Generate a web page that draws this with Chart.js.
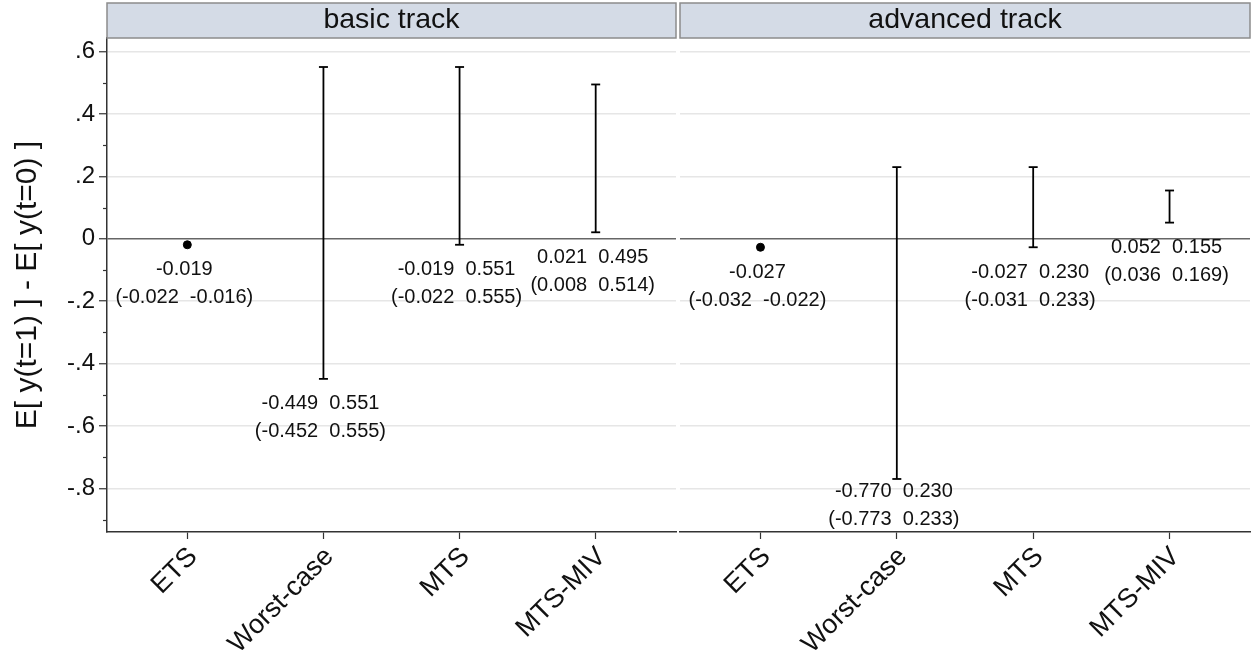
<!DOCTYPE html>
<html lang="en">
<head>
<meta charset="utf-8">
<script src="https://cdn.jsdelivr.net/npm/chart.js@4.4.0/dist/chart.umd.min.js"></script>
<title>bounds by track</title>
<style>
  body { margin:0; background:#fff; }
  #wrap { position:relative; width:1252px; height:662px; }
  canvas { position:absolute; top:0; }
</style>
</head>
<body>
<div id="wrap">
  <canvas id="basic" width="678" height="662" style="left:0"></canvas>
  <canvas id="advanced" width="574" height="662" style="left:678px"></canvas>
</div>
<script>
// data
var categories = ['ETS', 'Worst-case', 'MTS', 'MTS-MIV'];
var panels = ['basic track', 'advanced track'];

var basicLower  = [-0.019, -0.449, -0.019, 0.021];
var basicUpper  = [-0.019,  0.551,  0.551, 0.495];
var basicCiLow  = [-0.022, -0.452, -0.022, 0.008];
var basicCiHigh = [-0.016,  0.555,  0.555, 0.514];

var advLower  = [-0.027, -0.770, -0.027, 0.052];
var advUpper  = [-0.027,  0.230,  0.230, 0.155];
var advCiLow  = [-0.032, -0.773, -0.031, 0.036];
var advCiHigh = [-0.022,  0.233,  0.233, 0.169];

var yTicks = [-0.9, -0.8, -0.7, -0.6, -0.5, -0.4, -0.3, -0.2, -0.1, 0, 0.1, 0.2, 0.3, 0.4, 0.5, 0.6];
var yTitle = 'E[ y(t=1) ] - E[ y(t=0) ]';

var FONT = "'Liberation Sans', Arial, Helvetica, sans-serif";

function isMajor(v) { return Math.round(v * 10) % 2 === 0; }
function fmtTick(v) {
  var k = Math.round(v * 10);
  if (k === 0) return '0';
  return (k / 10).toString().replace('0.', '.');
}
function fmt(v) { return v.toFixed(3); }

// strip header above each panel
var stripPlugin = {
  id: 'strip',
  afterDraw: function(chart) {
    var ctx = chart.ctx, a = chart.chartArea;
    ctx.save();
    ctx.fillStyle = '#d4dbe6';
    ctx.fillRect(a.left, 3, a.right - a.left, 35);
    ctx.strokeStyle = '#8c8c8c';
    ctx.lineWidth = 1.5;
    ctx.strokeRect(a.left, 3, a.right - a.left, 35);
    ctx.fillStyle = '#111';
    ctx.font = '28.5px ' + FONT;
    ctx.textAlign = 'center';
    ctx.textBaseline = 'alphabetic';
    ctx.fillText(chart.options.plugins.strip.text, (a.left + a.right) / 2, 28);
    ctx.restore();
  }
};

// value labels under each bound + minor ticks
var labelPlugin = {
  id: 'boundLabels',
  afterDatasetsDraw: function(chart) {
    var o = chart.options.plugins.boundLabels;
    var ctx = chart.ctx, xs = chart.scales.x, ys = chart.scales.y;
    ctx.save();
    ctx.fillStyle = '#111';
    ctx.font = '20px ' + FONT;
    ctx.textAlign = 'center';
    ctx.textBaseline = 'middle';
    for (var i = 0; i < categories.length; i++) {
      var x = xs.getPixelForValue(i + 1) - 3;
      var y = ys.getPixelForValue(o.lower[i]);
      var l1 = o.lower[i] === o.upper[i] ? fmt(o.lower[i]) : fmt(o.lower[i]) + '  ' + fmt(o.upper[i]);
      var l2 = '(' + fmt(o.ciLow[i]) + '  ' + fmt(o.ciHigh[i]) + ')';
      // keep the label block inside the plot region
      var y2 = Math.min(y + 53, chart.chartArea.bottom - 13);
      ctx.fillText(l1, x, y2 - 28);
      ctx.fillText(l2, x, y2);
    }
    if (o.minorTicks) {
      ctx.strokeStyle = '#333';
      ctx.lineWidth = 1.2;
      yTicks.forEach(function(v) {
        if (isMajor(v)) return;
        var py = Math.round(ys.getPixelForValue(v)) + 0.5;
        ctx.beginPath();
        ctx.moveTo(chart.chartArea.left - 4, py);
        ctx.lineTo(chart.chartArea.left, py);
        ctx.stroke();
      });
    }
    ctx.restore();
  }
};

function makeChart(id, title, lower, upper, ciLow, ciHigh, isLeft) {
  var datasets = [];
  for (var i = 0; i < categories.length; i++) {
    if (lower[i] === upper[i]) {
      datasets.push({
        data: [{x: i + 1, y: lower[i]}],
        pointStyle: 'circle', pointRadius: 4,
        backgroundColor: '#000', borderColor: '#000', showLine: false
      });
    } else {
      datasets.push({
        data: [{x: i + 1, y: lower[i]}, {x: i + 1, y: upper[i]}],
        showLine: true, borderColor: '#000', borderWidth: 1.8,
        pointStyle: 'line', pointRadius: 4.5, pointBorderWidth: 1.8,
        pointBorderColor: '#000', backgroundColor: '#000'
      });
    }
  }

  new Chart(document.getElementById(id), {
    type: 'scatter',
    data: { datasets: datasets },
    plugins: [stripPlugin, labelPlugin],
    options: {
      responsive: false,
      animation: false,
      events: [],
      layout: { autoPadding: false, padding: { top: 38, left: isLeft ? 0 : 2, right: 2, bottom: 0 } },
      plugins: {
        legend: { display: false },
        tooltip: { enabled: false },
        strip: { text: title },
        boundLabels: { lower: lower, upper: upper, ciLow: ciLow, ciHigh: ciHigh, minorTicks: isLeft }
      },
      scales: {
        x: {
          type: 'linear', min: 0.41, max: 4.59,
          afterBuildTicks: function(s) { s.ticks = [1, 2, 3, 4].map(function(v) { return {value: v}; }); },
          afterFit: function(s) { s.height = 130; s.paddingLeft = 0; s.paddingRight = 0; },
          ticks: {
            autoSkip: false, minRotation: 45, maxRotation: 45, padding: 2, labelOffset: 6,
            color: '#111', font: { family: FONT, size: 27 },
            callback: function(v) { return categories[v - 1]; }
          },
          grid: { drawOnChartArea: false, drawTicks: true, tickLength: 7, tickColor: '#333', tickWidth: 1.2 },
          border: { display: true, color: '#333', width: 1.5 }
        },
        y: {
          type: 'linear', min: -0.94, max: 0.644,
          afterBuildTicks: function(s) { s.ticks = yTicks.map(function(v) { return {value: v}; }); },
          afterFit: function(s) { s.width = isLeft ? 107 : 0; s.paddingTop = 0; s.paddingBottom = 0; },
          ticks: {
            display: isLeft, padding: 4, color: '#111',
            font: { family: FONT, size: 24 },
            callback: function(v) { return isMajor(v) ? fmtTick(v) : ''; }
          },
          title: {
            display: isLeft, text: yTitle, color: '#111',
            font: { family: FONT, size: 30 }, padding: { top: 10, bottom: 0 }
          },
          grid: {
            drawTicks: isLeft, tickLength: 8, tickWidth: 1.2,
            tickColor: function(c) { return isMajor(c.tick.value) ? '#333' : 'rgba(0,0,0,0)'; },
            color: function(c) {
              if (!c.tick) return 'rgba(0,0,0,0)';
              if (Math.round(c.tick.value * 10) === 0) return '#666';
              return isMajor(c.tick.value) ? '#e6e6e6' : 'rgba(0,0,0,0)';
            },
            lineWidth: 1.5
          },
          border: { display: isLeft, color: '#333', width: 1.5 }
        }
      }
    }
  });
}

makeChart('basic', panels[0], basicLower, basicUpper, basicCiLow, basicCiHigh, true);
makeChart('advanced', panels[1], advLower, advUpper, advCiLow, advCiHigh, false);
</script>
</body>
</html>
